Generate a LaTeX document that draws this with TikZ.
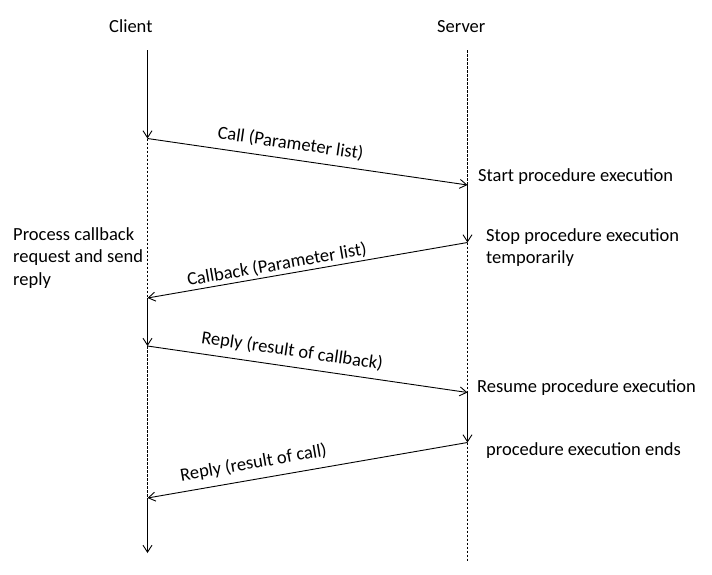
\documentclass[tikz,border=0pt]{standalone}
\usepackage{fontspec}
\setmainfont{Carlito}
\usetikzlibrary{arrows.meta}
\begin{document}
\begin{tikzpicture}[x=1pt,y=-1pt,
  font=\fontsize{18.5}{22.5}\selectfont,
  active/.style={line width=0.9pt,-{Straight Barb[length=7pt,width=9pt]}},
  idle/.style={line width=0.6pt,dash pattern=on 2.5pt off 1.5pt},
  msg/.style={line width=0.9pt,-{Straight Barb[length=7pt,width=9pt]}},
  txt/.style={anchor=base west,inner sep=0pt,align=left},
  lbl/.style={sloped,inner sep=0pt}]
\fill[white] (0,0) rectangle (712,574);
\useasboundingbox (0,0) rectangle (712,574);
% lifeline points
\coordinate (c0) at (147.5,50);
\coordinate (c1) at (147.5,138.5);
\coordinate (c2) at (147.5,298);
\coordinate (c3) at (147.5,346);
\coordinate (c4) at (147.5,498);
\coordinate (c5) at (147.5,553);
\coordinate (s0) at (467.5,50);
\coordinate (s1) at (467.5,185);
\coordinate (s2) at (467.5,242.5);
\coordinate (s3) at (467.5,392.5);
\coordinate (s4) at (467.5,442.5);
\coordinate (s5) at (467.5,562);
% headers
\node[txt] (client) at (109,32) {Client};
\node[txt] (server) at (437,32) {Server};
% client lifeline
\draw[active] (c0) -- (c1);
\draw[idle] (c1) -- (c2);
\draw[active] (c2) -- (c3);
\draw[idle] (c3) -- (c4);
\draw[active] (c4) -- (c5);
% server lifeline
\draw[idle] (s0) -- (s1);
\draw[active] (s1) -- (s2);
\draw[idle] (s2) -- (s3);
\draw[active] (s3) -- (s4);
\draw[idle] (s4) -- (s5);
% messages
\draw[msg] (c1) -- node[lbl,pos=0.44,above=7pt] (m1) {Call (Parameter list)} (s1);
\draw[msg] (s2) -- node[lbl,pos=0.59,above=2pt] (m2) {Callback (Parameter list)} (c2);
\draw[msg] (c3) -- node[lbl,pos=0.445,above=7pt] (m3) {Reply (result of callback)} (s3);
\draw[msg] (s4) -- node[lbl,pos=0.66,above=7.5pt] (m4) {Reply (result of call)} (c4);
% side notes (base anchor = last line's baseline)
\node[txt] (start) at (478,181.5) {Start procedure execution};
\node[txt] (stop) at (486,263.5) {Stop procedure execution\\temporarily};
\node[txt] (proc) at (13,285) {Process callback\\request and send\\reply};
\node[txt] (resume) at (477,392) {Resume procedure execution};
\node[txt] (ends) at (486,455) {procedure execution ends};
\end{tikzpicture}
\end{document}
